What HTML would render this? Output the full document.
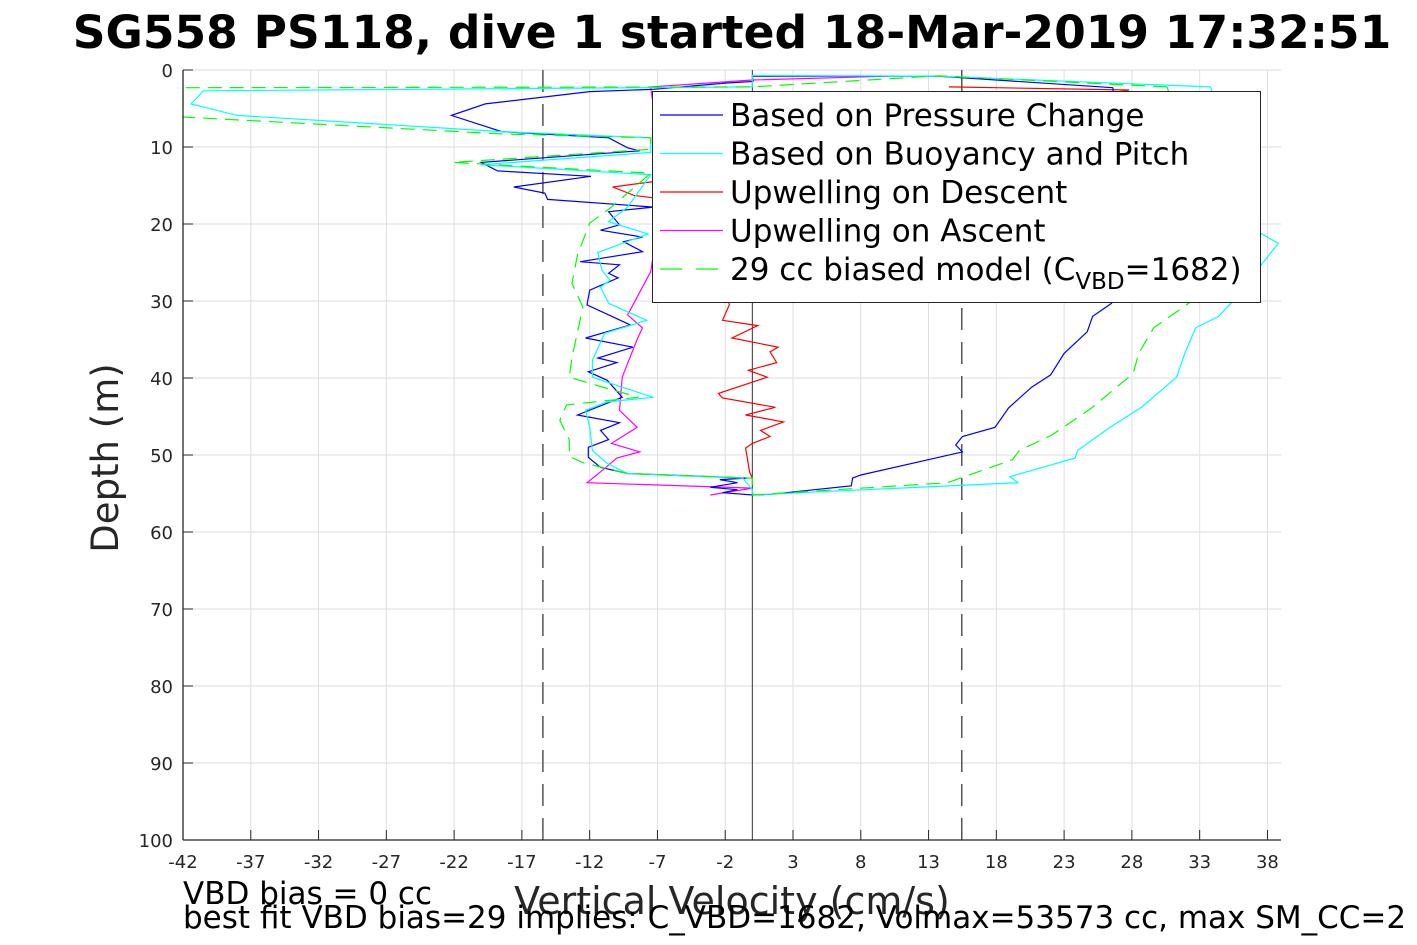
<!DOCTYPE html>
<html><head><meta charset="utf-8"><style>
html,body{margin:0;padding:0;background:#fff;}
svg{display:block;font-family:"DejaVu Sans","Liberation Sans",sans-serif;}
</style></head><body>
<svg id="chart" width="1417" height="945" viewBox="0 0 1417 945">
<rect x="0" y="0" width="1417" height="945" fill="#fff"/>
<g id="grid"></g>
<g id="refs"></g>
<g id="series"></g>
<g id="axes"></g>
<text x="732" y="48" text-anchor="middle" font-size="45.5" font-weight="bold" fill="#000">SG558 PS118, dive 1 started 18-Mar-2019 17:32:51</text>
<text transform="translate(118,458) rotate(-90)" text-anchor="middle" font-size="37" fill="#262626">Depth (m)</text>
<text x="732" y="914" text-anchor="middle" font-size="38" fill="#262626">Vertical Velocity (cm/s)</text>
<text x="183" y="904" font-size="31" fill="#000">VBD bias = 0 cc</text>
<text x="183" y="928" font-size="31" fill="#000">best fit VBD bias=29 implies: C_VBD=1682, Volmax=53573 cc, max SM_CC=2</text>
<g id="legend"></g>
</svg>
<script>
const NS="http://www.w3.org/2000/svg";
const xTicks=[-42,-37,-32,-27,-22,-17,-12,-7,-2,3,8,13,18,23,28,33,38];
const yTicks=[0,10,20,30,40,50,60,70,80,90,100];
const refVelocities=[-15.45,0,15.45];
const pressureDepth=[2.3,15,30.3,32,34,36.8,39.6,41.2,43.9,46.4,47.6,48.7,49.6,52.6,53,54,55.1,55.2,54.9,54.5,54.2,53.6,53.2,53,52.4,51.6,50.3,49,48,46.8,45.8,44.8,42.5,40.3,39.2,38,37.4,36,34.8,33.1,30.5,28.6,27,26.4,25.3,24.9,23.6,22.3,21.7,20.8,20.1,18.4,17.8,16.8,16,15.2,13.8,13.1,12,10.5,10.1,8.8,8,5.9,4.4,2.8,2.5,1.7,1.5,0.8,0.8,2.3];
const pressureVel=[26.6,27.2,26.5,25.1,24.7,23.0,22.0,20.6,18.9,17.9,15.5,15.0,15.5,8.0,7.4,7.3,1.35,0.05,-2.2,-1.1,-3.1,-1.1,-2.4,-0.4,-9.2,-11.2,-12.1,-12.1,-10.6,-11.2,-9.8,-12.9,-9.6,-10.7,-12.1,-10.0,-11.4,-8.8,-12.3,-9.0,-12.2,-12.0,-9.9,-10.6,-9.8,-12.7,-8.1,-9.5,-8.1,-11.2,-9.8,-10.6,-7.3,-15.1,-15.3,-17.6,-11.9,-18.8,-20.0,-8.3,-9.2,-10.6,-18.5,-22.2,-19.7,-12.0,-7.3,-2.0,0.05,0,13.7,26.6];
const buoyDepth=[2.2,0.8,0.7,2.2,2.7,4.4,5.9,8.0,8.8,10.7,12.3,13.6,17.8,19.7,21.3,23.7,26,27.3,28.2,30.3,32.5,34.2,37.7,39.9,41.2,42.5,43.1,44.2,46.4,49.4,51.1,52.4,53,54.5,55.2,54.9,53.6,52.8,50.4,49.4,46.5,43.8,39.9,36.8,33.5,32,30.3,22.5,21,12,2.2];
const buoyVel=[33.8,13.7,0,0,-40.5,-41.4,-38.0,-18.5,-7.5,-7.5,-20.0,-7.5,-9.2,-10.6,-7.7,-11.4,-11.1,-10.5,-11.2,-10.6,-7.8,-10.9,-11.8,-11.8,-9.6,-7.3,-10.7,-12.3,-12.0,-11.8,-10.7,-9.2,-0.7,0,0.05,3.5,19.6,19.0,23.8,24.0,26.3,28.7,31.3,31.9,32.7,34.4,35.3,38.8,37.3,35.5,33.8];
const descentDepth=[2.2,2.6,8,14.5,15.2,16.3,16.6,22,28,30.5,32.5,33.2,34.8,36,36.6,38,39,39.9,42,42.6,43.8,44.8,45.7,46.8,47.6,48.5,49.1,52.2,53];
const descentVel=[14.5,27.8,10,-7.3,-10.3,-8.7,-7.3,-4,-2,-1.7,-2.2,0.4,-1.5,1.9,1.3,1.8,-0.3,1.1,-2.5,-2.2,1.7,-0.5,2.3,0.6,1.3,0,-0.5,-0.2,0];
const ascentDepth=[55.2,54.3,53.6,52.2,50.4,49.6,48.5,46.4,44.2,39.9,35,33.5,31.8,26.2,15,2.2,1.3,0.8];
const ascentVel=[-3.1,0,-12.2,-11.2,-10.0,-8.3,-10.4,-8.5,-9.8,-9.6,-8.5,-8.1,-9.2,-7.5,-6.5,-7.5,0,10];
const modelDepth=[2.2,0.75,2.2,2.3,6.1,8.3,8.8,10.3,12,13.4,17.8,19.9,24,27.7,30.8,37.3,39.9,41.1,42.5,43.5,45.5,48,50.2,51,52.4,53,55.2,53.6,50.6,49.4,47.4,43.8,39.4,36.8,33.5,30.3,20,2.2];
const modelVel=[30.6,13.7,0,-42,-42,-18.5,-7.5,-7.5,-22.1,-7.5,-10.4,-12.0,-12.9,-13.3,-12.5,-13.3,-13.5,-11.2,-8.4,-13.7,-14.2,-13.5,-13.5,-12.5,-9.2,0,0,14.4,19.2,19.7,22.1,25.1,28.1,28.5,29.6,32.2,34,30.6];

const L=183,R=1281,T=70,B=840,XMIN=-42,XMAX=39,YMIN=0,YMAX=100;
const sx=v=>L+(v-XMIN)/(XMAX-XMIN)*(R-L);
const sy=d=>T+(d-YMIN)/(YMAX-YMIN)*(B-T);
function mk(tag,attrs,parent){const e=document.createElementNS(NS,tag);for(const k in attrs)e.setAttribute(k,attrs[k]);parent.appendChild(e);return e;}
const grid=document.getElementById('grid'),axes=document.getElementById('axes'),refs=document.getElementById('refs'),series=document.getElementById('series'),legend=document.getElementById('legend');
xTicks.forEach(t=>{
  const g=mk('line',{x1:sx(t),x2:sx(t),y1:T,y2:B,stroke:'#dedede','stroke-width':1},grid);
  
  
  const tk=mk('line',{x1:sx(t),x2:sx(t),y1:B,y2:B-10,stroke:'#262626','stroke-width':1},axes);
  
  
  const lb=mk('text',{x:sx(t),y:B+28,'text-anchor':'middle','font-size':18,fill:'#262626'},axes);
  lb.textContent=t;
  
  
});
yTicks.forEach(t=>{
  const g=mk('line',{x1:L,x2:R,y1:sy(t),y2:sy(t),stroke:'#dedede','stroke-width':1},grid);
  
  
  const tk=mk('line',{x1:L,x2:L+10,y1:sy(t),y2:sy(t),stroke:'#262626','stroke-width':1},axes);
  
  
  const lb=mk('text',{x:L-10,y:sy(t)+7,'text-anchor':'end','font-size':18,fill:'#262626'},axes);
  lb.textContent=t;
  
  
});
const ax1=mk('line',{x1:L,x2:L,y1:T,y2:B,stroke:'#262626','stroke-width':1.3},axes);


const ax2=mk('line',{x1:L,x2:R,y1:B,y2:B,stroke:'#262626','stroke-width':1.3},axes);


refVelocities.forEach(v=>{
  const l=mk('line',{x1:sx(v),x2:sx(v),y1:T,y2:B,stroke:v===0?'#333':'#555','stroke-width':v===0?1:1.5,'stroke-dasharray':v===0?'none':'22,12'},refs);
  
  
});
function poly(depths,vels,color,dash,name){
  const pts=depths.map((d,i)=>sx(vels[i]).toFixed(1)+','+sy(d).toFixed(1)).join(' ');
  const p=mk('polyline',{points:pts,fill:'none',stroke:color,'stroke-width':1.2,'stroke-dasharray':dash},series);
  
  
}
const clip=mk('clipPath',{id:'pc'},document.getElementById('chart'));
mk('rect',{x:L,y:T,width:R-L,height:B-T},clip);
series.setAttribute('clip-path','url(#pc)');
poly(descentDepth,descentVel,'#ff0000','none','upwelling-descent-line');
poly(ascentDepth,ascentVel,'#ff00ff','none','upwelling-ascent-line');
poly(pressureDepth,pressureVel,'#0000ff','none','pressure-change-line');
poly(buoyDepth,buoyVel,'#00ffff','none','buoyancy-pitch-line');
poly(modelDepth,modelVel,'#00ff00','14,8','biased-model-line');
const box=mk('rect',{x:652.5,y:91.5,width:608,height:211,fill:'#fff',stroke:'#262626','stroke-width':1},legend);


const entries=[['#0000ff','none','Based on Pressure Change'],['#00ffff','none','Based on Buoyancy and Pitch'],['#ff0000','none','Upwelling on Descent'],['#ff00ff','none','Upwelling on Ascent'],['#00ff00','22,14','29 cc biased model (C']];
entries.forEach((e,i)=>{
  const y=115+i*38.5;
  const l=mk('line',{x1:660,x2:723,y1:y,y2:y,stroke:e[0],'stroke-width':1.2,'stroke-dasharray':e[1]},legend);
  
  
  const t=mk('text',{x:730,y:y+11,'font-size':31,fill:'#000'},legend);
  
  
  t.textContent=e[2];
  if(i===4){
    const s=mk('tspan',{'font-size':23,dy:9},t);s.textContent='VBD';
    const r=mk('tspan',{dy:-9},t);r.textContent='=1682)';
  }
});
</script>
</body></html>
